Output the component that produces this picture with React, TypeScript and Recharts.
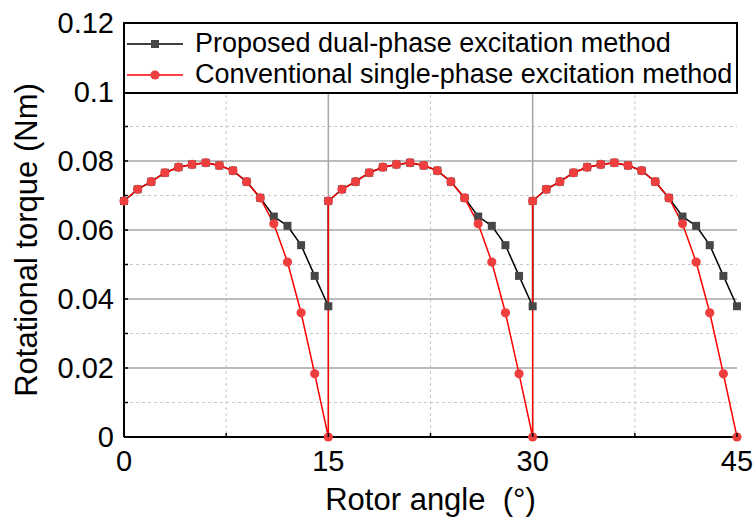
import { LineChart, Line, XAxis, YAxis, CartesianGrid } from "recharts"

// rotor angle in degrees; 15 and 30 appear twice because torque jumps there
const angle = [
  0, 1, 2, 3, 4, 5, 6, 7, 8, 9, 10, 11, 12, 13, 14, 15,
  15, 16, 17, 18, 19, 20, 21, 22, 23, 24, 25, 26, 27, 28, 29, 30,
  30, 31, 32, 33, 34, 35, 36, 37, 38, 39, 40, 41, 42, 43, 44, 45,
]

// torque (Nm), proposed dual-phase excitation
const dualPhase = [
  0.0684, 0.0718, 0.074, 0.0766, 0.0782, 0.079, 0.0795, 0.0787, 0.0772, 0.074, 0.0693, 0.0639, 0.0612, 0.0556, 0.0467, 0.0379,
  0.0684, 0.0718, 0.074, 0.0766, 0.0782, 0.079, 0.0795, 0.0787, 0.0772, 0.074, 0.0693, 0.0639, 0.0612, 0.0556, 0.0467, 0.0379,
  0.0684, 0.0718, 0.074, 0.0766, 0.0782, 0.079, 0.0795, 0.0787, 0.0772, 0.074, 0.0693, 0.0639, 0.0612, 0.0556, 0.0467, 0.0379,
]

// torque (Nm), conventional single-phase excitation
const singlePhase = [
  0.0684, 0.0718, 0.074, 0.0766, 0.0782, 0.079, 0.0795, 0.0787, 0.0772, 0.074, 0.0693, 0.0618, 0.0507, 0.036, 0.0183, 0,
  0.0684, 0.0718, 0.074, 0.0766, 0.0782, 0.079, 0.0795, 0.0787, 0.0772, 0.074, 0.0693, 0.0618, 0.0507, 0.036, 0.0183, 0,
  0.0684, 0.0718, 0.074, 0.0766, 0.0782, 0.079, 0.0795, 0.0787, 0.0772, 0.074, 0.0693, 0.0618, 0.0507, 0.036, 0.0183, 0,
]

const seriesNames = [
  "Proposed dual-phase excitation method",
  "Conventional single-phase excitation method",
]

const xTicks = [0, 7.5, 15, 22.5, 30, 37.5, 45]
const xMajor = [15, 30]
const xMinor = [7.5, 22.5, 37.5]
const yTicks = [0, 0.01, 0.02, 0.03, 0.04, 0.05, 0.06, 0.07, 0.08, 0.09, 0.1, 0.11, 0.12]
const yMajor = [0.02, 0.04, 0.06, 0.08, 0.1]
const yMinor = [0.01, 0.03, 0.05, 0.07, 0.09, 0.11]

const dualData = angle.map((a, i) => ({ angle: a, torque: dualPhase[i] }))
const singleData = angle.map((a, i) => ({ angle: a, torque: singlePhase[i] }))

const FONT = '"Liberation Sans", Arial, sans-serif'
const RED_LINE = "#ff0000"
const RED_DOT = "#ee3e3e"
const GREY_DOT = "#474747"

const SquareDot = (props: any) => {
  const { cx, cy, index } = props
  if (cx == null || cy == null) return <g key={`sq-${index}`} />
  return <rect key={`sq-${index}`} x={cx - 4} y={cy - 4} width={8} height={8} fill={GREY_DOT} />
}

const CircleDot = (props: any) => {
  const { cx, cy, index } = props
  if (cx == null || cy == null) return <g key={`ci-${index}`} />
  return <circle key={`ci-${index}`} cx={cx} cy={cy} r={4.6} fill={RED_DOT} />
}

// tick labels sit outside, tick marks point into the plot
const XTick = (props: any) => {
  const { x, y, payload } = props
  const axisY = y - 12
  const major = payload.value % 15 === 0
  return (
    <g>
      <line x1={x} x2={x} y1={axisY} y2={axisY - 4} stroke="#000" strokeWidth={1.5} />
      {major && (
        <text x={x} y={axisY + 34} textAnchor="middle" fontSize={29} fontFamily={FONT} fill="#000">
          {payload.value}
        </text>
      )}
    </g>
  )
}

const YTick = (props: any) => {
  const { x, y, payload } = props
  const axisX = x + 10
  const major = Math.round(payload.value * 100) % 2 === 0
  return (
    <g>
      <line x1={axisX} x2={axisX + 4} y1={y} y2={y} stroke="#000" strokeWidth={1.5} />
      {major && (
        <text x={x} y={y + 10} textAnchor="end" fontSize={29} fontFamily={FONT} fill="#000">
          {payload.value}
        </text>
      )}
    </g>
  )
}

function LegendBox() {
  const rows = [
    { name: seriesNames[0], color: "#000", marker: <rect x={24} y={8} width={8} height={8} fill={GREY_DOT} /> },
    { name: seriesNames[1], color: RED_LINE, marker: <circle cx={28} cy={12} r={4.6} fill={RED_DOT} /> },
  ]
  return (
    <div
      style={{
        position: "absolute",
        left: 123,
        top: 22,
        width: 615,
        height: 72,
        boxSizing: "border-box",
        border: "2px solid #000",
        background: "#fff",
        fontFamily: FONT,
        fontSize: 27,
        color: "#000",
        paddingTop: 4,
      }}
    >
      {rows.map((r) => (
        <div key={r.name} style={{ display: "flex", alignItems: "center", height: 31, whiteSpace: "nowrap" }}>
          <svg width={60} height={24} style={{ marginLeft: 2, marginRight: 8 }}>
            <line x1={0} x2={56} y1={12} y2={12} stroke={r.color} strokeWidth={1.5} />
            {r.marker}
          </svg>
          <span>{r.name}</span>
        </div>
      ))}
    </div>
  )
}

export default function App() {
  return (
    <div style={{ position: "absolute", left: 0, top: 0, width: 756, height: 523, background: "#fff" }}>
      <LineChart width={756} height={523} margin={{ top: 23, right: 19, bottom: 0, left: 0 }}>
        <CartesianGrid stroke="#c8c8c8" strokeDasharray="3 3" horizontalValues={yMinor} verticalValues={xMinor} />
        <CartesianGrid stroke="#a6a6a6" strokeWidth={1.5} horizontalValues={yMajor} verticalValues={xMajor} />
        <XAxis
          dataKey="angle"
          type="number"
          domain={[0, 45]}
          ticks={xTicks}
          interval={0}
          height={86}
          tickSize={0}
          tickMargin={12}
          tickLine={false}
          axisLine={{ stroke: "#000", strokeWidth: 2 }}
          tick={<XTick />}
          allowDuplicatedCategory
          label={(p: any) => {
            const vb = p.viewBox
            return (
              <text
                x={vb.x + vb.width / 2}
                y={vb.y + 73}
                textAnchor="middle"
                fontSize={31}
                fontFamily={FONT}
                fill="#000"
                style={{ whiteSpace: "pre" }}
              >
                {"Rotor angle  (°)"}
              </text>
            )
          }}
        />
        <XAxis xAxisId="top" orientation="top" type="number" domain={[0, 45]} height={0} tick={false} tickLine={false} axisLine={{ stroke: "#000", strokeWidth: 2 }} />
        <YAxis
          type="number"
          domain={[0, 0.12]}
          ticks={yTicks}
          interval={0}
          width={124}
          tickSize={0}
          tickMargin={10}
          tickLine={false}
          axisLine={{ stroke: "#000", strokeWidth: 2 }}
          tick={<YTick />}
          label={(p: any) => {
            const vb = p.viewBox
            const cx = 37
            const cy = vb.y + vb.height / 2 + 10
            return (
              <text
                x={cx}
                y={cy}
                textAnchor="middle"
                fontSize={31}
                fontFamily={FONT}
                fill="#000"
                transform={`rotate(-90 ${cx} ${cy})`}
              >
                Rotational torque (Nm)
              </text>
            )
          }}
        />
        <YAxis yAxisId="right" orientation="right" type="number" domain={[0, 0.12]} width={0} tick={false} tickLine={false} axisLine={{ stroke: "#000", strokeWidth: 2 }} />
        <Line
          data={dualData}
          dataKey="torque"
          name={seriesNames[0]}
          stroke="#000"
          strokeWidth={1.5}
          dot={SquareDot}
          activeDot={false}
          isAnimationActive={false}
        />
        <Line
          data={singleData}
          dataKey="torque"
          name={seriesNames[1]}
          stroke={RED_LINE}
          strokeWidth={1.5}
          dot={CircleDot}
          activeDot={false}
          isAnimationActive={false}
        />
      </LineChart>
      <LegendBox />
    </div>
  )
}
